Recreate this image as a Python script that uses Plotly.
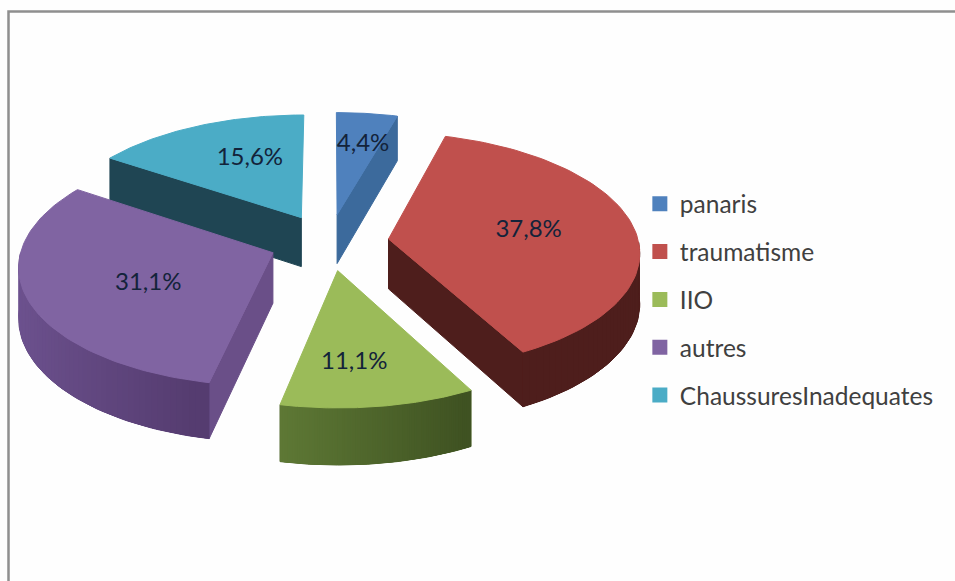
import numpy as np
import plotly.graph_objects as go

categories = ["panaris", "traumatisme", "IIO", "autres", "ChaussuresInadequates"]
values = [4.4, 37.8, 11.1, 31.1, 15.6]
labels = ["4,4%", "37,8%", "11,1%", "31,1%", "15,6%"]

# couleurs
top_colors = ["#4F81BD", "#C0504D", "#9BBB59", "#8064A2", "#4BACC6"]
# mur radial + degrade du mur exterieur (gauche -> droite)
wall_colors = ["#3C6A9C", "#4E1E1C", "#5A7434", "#6A4F88", "#1F4553"]
outer_left = ["#3C6A9C", "#4E1E1C", "#5F7A36", "#6E5390", "#1F4553"]
outer_right = ["#3C6A9C", "#4E1E1C", "#3F5222", "#553C70", "#1F4553"]

# projection (pixels)
CX, CY = 329, 242
R = 250
TILT = 0.47
PERSP = 0.10
DEPTH = 50
EXPLODE = 0.24

label_r = [0.99, 0.81, 0.91, 0.75, 0.90]
label_dx = [3, 0, -10, -2, 19]
label_dy = [8, -1, 5, 8, 3]


def project(X, Y, down=0.0):
    s = 1 / (1 + PERSP * np.asarray(Y))
    px = CX + np.asarray(X) * s * R
    py = CY - np.asarray(Y) * TILT * s * R + down * s * DEPTH
    return px, py


def hex_mix(c1, c2, t):
    a = [int(c1[i:i + 2], 16) for i in (1, 3, 5)]
    b = [int(c2[i:i + 2], 16) for i in (1, 3, 5)]
    return "rgb(%d,%d,%d)" % tuple(a[i] + (b[i] - a[i]) * t for i in range(3))


def poly(fig, xs, ys, color, width=1):
    fig.add_trace(go.Scatter(
        x=list(xs) + [xs[0]], y=list(ys) + [ys[0]],
        mode="lines", fill="toself", fillcolor=color,
        line=dict(color=color, width=width),
        hoverinfo="skip", showlegend=False,
    ))


fractions = np.array(values) / sum(values)
ends = np.cumsum(fractions) * 2 * np.pi
starts = ends - fractions * 2 * np.pi

fig = go.Figure()

# ordre de dessin: du fond vers l'avant
for i in [4, 0, 3, 1, 2]:
    a0, a1 = starts[i], ends[i]
    mid = (a0 + a1) / 2
    ox, oy = EXPLODE * np.sin(mid), EXPLODE * np.cos(mid)
    theta = np.linspace(a0, a1, 80)
    rim_X = ox + np.sin(theta)
    rim_Y = oy + np.cos(theta)

    # murs radiaux visibles
    for a, sign in ((a0, -1), (a1, 1)):
        # normale sortante du mur; visible si elle pointe vers le spectateur
        normal_y = -np.sin(a) * sign
        if normal_y < 0:
            ex, ey = ox + np.sin(a), oy + np.cos(a)
            x1, y1 = project([ox, ex], [oy, ey])
            x2, y2 = project([ex, ox], [ey, oy], 1.0)
            poly(fig, list(x1) + list(x2), list(y1) + list(y2), wall_colors[i])

    # mur exterieur: fond uni puis bandes qui se chevauchent pour le degrade
    front = np.where(np.cos(theta) < 0)[0]
    if len(front) > 1:
        x1, y1 = project(rim_X[front], rim_Y[front])
        x2, y2 = project(rim_X[front][::-1], rim_Y[front][::-1], 1.0)
        poly(fig, list(x1) + list(x2), list(y1) + list(y2),
             hex_mix(outer_left[i], outer_right[i], 0.5))
        left_first = rim_X[front[0]] < rim_X[front[-1]]
        steps = range(len(front) - 1) if left_first else range(len(front) - 2, -1, -1)
        for k in steps:
            seg = front[max(k - 1, 0):k + 3]
            x1, y1 = project(rim_X[seg], rim_Y[seg])
            x2, y2 = project(rim_X[seg][::-1], rim_Y[seg][::-1], 1.0)
            t = (rim_X[front[k]] - rim_X[front].min()) / (rim_X[front].max() - rim_X[front].min())
            poly(fig, list(x1) + list(x2), list(y1) + list(y2),
                 hex_mix(outer_left[i], outer_right[i], t), width=0)

    # dessus
    tx, ty = project(np.r_[ox, rim_X], np.r_[oy, rim_Y])
    poly(fig, tx, ty, top_colors[i])

# etiquettes
lx, ly = [], []
for i in range(5):
    mid = (starts[i] + ends[i]) / 2
    px, py = project(label_r[i] * np.sin(mid), label_r[i] * np.cos(mid))
    lx.append(float(px) + label_dx[i])
    ly.append(float(py) + label_dy[i])
fig.add_trace(go.Scatter(
    x=lx, y=ly, text=labels, mode="text",
    textfont=dict(family="Lato", size=24, color="#13233A"),
    hoverinfo="skip", showlegend=False,
))

# legende
for i, name in enumerate(categories):
    fig.add_trace(go.Scatter(
        x=[None], y=[None], mode="markers", name=name, legendgroup=name,
        marker=dict(symbol="square", size=15, color=top_colors[i]),
    ))

fig.update_layout(
    width=955, height=581,
    margin=dict(l=0, r=0, t=0, b=0),
    paper_bgcolor="#FEFEFE", plot_bgcolor="#FEFEFE",
    xaxis=dict(range=[0, 955], visible=False, fixedrange=True),
    yaxis=dict(range=[581, 0], visible=False, fixedrange=True),
    legend=dict(
        x=0.670, y=0.688, xanchor="left", yanchor="top",
        font=dict(family="Lato", size=24.5, color="#404040"),
        tracegroupgap=13, bgcolor="rgba(0,0,0,0)",
    ),
    shapes=[dict(type="rect", xref="x", yref="y", x0=8.5, y0=11.5, x1=980, y1=600,
                 line=dict(color="#8F8F8F", width=2.5))],
)
fig.write_html("out.html", config=dict(displayModeBar=False),
               post_script="document.body.style.margin='0';")
